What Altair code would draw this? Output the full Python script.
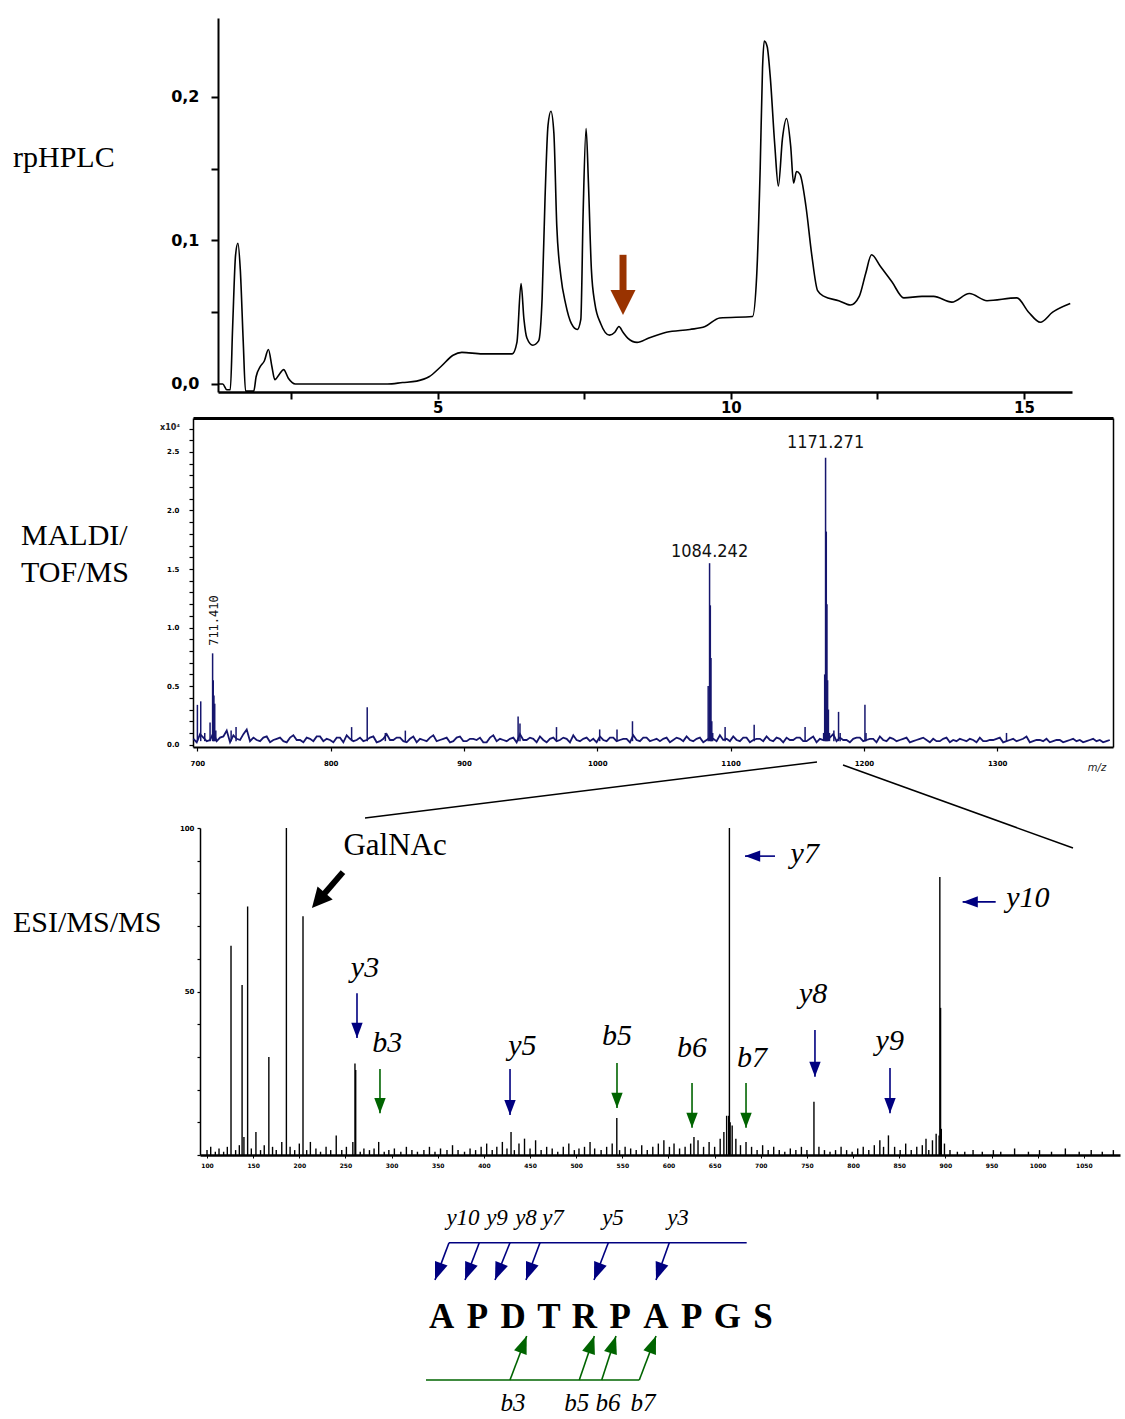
import math
import altair as alt
import pandas as pd

W, H = 1125, 1419
NAVY = "#000080"
GREEN = "#006400"
BROWN = "#993300"
SPEC_BLUE = "#16166e"
SERIF = "Liberation Serif"
SANS_BOLD = "DejaVu Sans"
NARROW = "Liberation Sans Narrow, DejaVu Sans Condensed, sans-serif"

# ---------------------------------------------------------------- data
# rpHPLC chromatogram: (retention time [min], absorbance)
HPLC_TRACE = [
    (1.25, 0.000), (1.33, 0.000), (1.40, -0.004), (1.46, -0.004), (1.50, 0.040),
    (1.55, 0.090), (1.59, 0.098), (1.63, 0.080), (1.68, 0.030), (1.72, -0.005),
    (1.86, -0.005), (1.90, 0.005), (1.97, 0.012), (2.04, 0.016), (2.11, 0.024),
    (2.17, 0.012), (2.22, 0.003), (2.30, 0.007), (2.37, 0.010), (2.45, 0.004),
    (2.57, 0.000), (4.14, 0.000), (4.40, 0.001), (4.64, 0.002), (4.85, 0.005),
    (5.05, 0.012), (5.26, 0.020), (5.41, 0.022), (5.76, 0.021), (6.27, 0.021),
    (6.35, 0.029), (6.42, 0.070), (6.47, 0.045), (6.52, 0.032), (6.62, 0.027),
    (6.72, 0.030), (6.78, 0.060), (6.83, 0.130), (6.88, 0.180), (6.93, 0.190),
    (6.98, 0.175), (7.03, 0.110), (7.10, 0.075), (7.18, 0.056), (7.28, 0.042),
    (7.38, 0.038), (7.44, 0.045), (7.48, 0.120), (7.53, 0.178), (7.57, 0.140),
    (7.62, 0.080), (7.68, 0.056), (7.78, 0.042), (7.93, 0.034), (8.02, 0.036),
    (8.09, 0.040), (8.16, 0.036), (8.24, 0.032), (8.40, 0.029), (8.60, 0.032),
    (8.90, 0.036), (9.30, 0.038), (9.56, 0.040), (9.81, 0.046), (10.37, 0.047),
    (10.44, 0.075), (10.50, 0.150), (10.54, 0.220), (10.57, 0.239), (10.62, 0.235),
    (10.67, 0.215), (10.75, 0.166), (10.81, 0.138), (10.88, 0.171), (10.95, 0.185),
    (11.02, 0.166), (11.07, 0.140), (11.12, 0.148), (11.18, 0.146), (11.28, 0.124),
    (11.38, 0.090), (11.48, 0.065), (11.59, 0.061), (11.84, 0.058), (12.04, 0.055),
    (12.19, 0.061), (12.30, 0.077), (12.40, 0.090), (12.55, 0.082), (12.75, 0.071),
    (12.95, 0.060), (13.26, 0.061), (13.46, 0.061), (13.77, 0.057), (14.07, 0.063),
    (14.37, 0.058), (14.88, 0.060), (15.08, 0.050), (15.28, 0.043), (15.49, 0.050),
    (15.79, 0.056),
]
# collected fraction marker: (time, shaft top, shaft end, tip)
HPLC_MARK = (8.16, 0.090, 0.060, 0.048)

# MALDI-TOF spectrum (intensity x10^4): baseline sampled on two interleaved
# grids, plus the peak sticks
MALDI_NOISE_START = 697.0
MALDI_NOISE_STEP = 5.0
MALDI_NOISE = [
    0.05, 0.09, 0.03, 0.10, 0.06, 0.12, 0.08, 0.04, 0.13, 0.06,
    0.03, 0.07, 0.04, 0.06, 0.02, 0.08, 0.04, 0.06, 0.03, 0.07,
    0.05, 0.02, 0.06, 0.08, 0.03, 0.06, 0.04, 0.07, 0.03, 0.09,
    0.04, 0.06, 0.02, 0.07, 0.05, 0.03, 0.08, 0.04, 0.06, 0.03,
    0.07, 0.03, 0.05, 0.06, 0.02, 0.08, 0.05, 0.03, 0.06, 0.09,
    0.04, 0.05, 0.07, 0.02, 0.06, 0.04, 0.05, 0.08, 0.03, 0.06,
    0.05, 0.07, 0.03, 0.06, 0.04, 0.05, 0.08, 0.03, 0.06, 0.04,
    0.03, 0.06, 0.04, 0.05, 0.07, 0.03, 0.06, 0.04, 0.05, 0.08,
    0.05, 0.07, 0.03, 0.06, 0.04, 0.05, 0.07, 0.03, 0.05, 0.06,
    0.04, 0.06, 0.03, 0.07, 0.05, 0.04, 0.09, 0.06, 0.04, 0.05,
    0.06, 0.04, 0.05, 0.07, 0.03, 0.05, 0.04, 0.06, 0.03, 0.05,
    0.04, 0.05, 0.03, 0.06, 0.04, 0.05, 0.03, 0.04, 0.06, 0.03,
    0.04, 0.06, 0.03, 0.05, 0.04, 0.07, 0.03, 0.04, 0.05, 0.03,
    0.04, 0.03, 0.05, 0.04, 0.03, 0.05, 0.04, 0.03,
]
MALDI_NOISE_B_START = 699.5
MALDI_NOISE_B = [
    0.02, 0.06, 0.04, 0.03, 0.07, 0.02, 0.05, 0.09, 0.03, 0.04,
    0.06, 0.02, 0.05, 0.03, 0.06, 0.04, 0.02, 0.05, 0.07, 0.03,
    0.04, 0.06, 0.02, 0.05, 0.04, 0.03, 0.06, 0.02, 0.05, 0.04,
    0.06, 0.03, 0.05, 0.02, 0.04, 0.06, 0.03, 0.05, 0.02, 0.06,
    0.03, 0.05, 0.04, 0.02, 0.06, 0.03, 0.04, 0.05, 0.02, 0.04,
    0.06, 0.02, 0.04, 0.05, 0.03, 0.06, 0.02, 0.04, 0.05, 0.03,
    0.02, 0.04, 0.06, 0.03, 0.05, 0.02, 0.04, 0.06, 0.03, 0.05,
    0.05, 0.02, 0.06, 0.03, 0.04, 0.05, 0.02, 0.06, 0.03, 0.04,
    0.03, 0.04, 0.06, 0.02, 0.05, 0.03, 0.04, 0.06, 0.02, 0.04,
    0.06, 0.03, 0.05, 0.02, 0.04, 0.06, 0.03, 0.04, 0.02, 0.06,
    0.03, 0.05, 0.02, 0.04, 0.06, 0.03, 0.05, 0.02, 0.04, 0.06,
    0.02, 0.03, 0.05, 0.02, 0.03, 0.04, 0.05, 0.02, 0.03, 0.04,
    0.05, 0.02, 0.04, 0.03, 0.05, 0.02, 0.04, 0.03, 0.02, 0.04,
    0.02, 0.04, 0.03, 0.02, 0.04, 0.03, 0.02, 0.04,
]
MALDI_PEAKS = [
    (700.0, 0.34), (702.5, 0.37), (705.5, 0.10), (709.5, 0.19), (711.41, 0.78),
    (711.9, 0.55), (712.4, 0.42), (713.0, 0.35), (713.8, 0.12), (725.3, 0.12),
    (729.0, 0.15), (815.7, 0.15), (827.4, 0.32), (841.0, 0.10), (856.0, 0.12),
    (940.6, 0.24), (942.0, 0.18), (969.4, 0.15), (1001.8, 0.13), (1014.8, 0.13),
    (1026.4, 0.20), (1083.2, 0.50), (1084.242, 1.55), (1084.8, 1.19), (1085.3, 0.74),
    (1085.9, 0.20), (1086.6, 0.10), (1095.9, 0.15), (1117.7, 0.17), (1155.9, 0.15),
    (1169.8, 0.10), (1170.6, 0.60), (1171.271, 2.45), (1171.8, 1.82), (1172.3, 1.20),
    (1172.8, 0.55), (1173.4, 0.30), (1174.2, 0.10), (1177.5, 0.12), (1181.0, 0.28),
    (1182.2, 0.10), (1200.8, 0.34), (1201.6, 0.10), (1307.0, 0.10),
]
MALDI_BASE = 0.03
MALDI_LABELS = ["1084.242", "1171.271"]
MALDI_LABEL_MZ = [1084.242, 1171.271]
MALDI_LABEL_INT = [1.645, 2.58]
MALDI_SIDE_LABEL = "711.410"
MALDI_SIDE_POS = (712.4, 1.06)

# ESI-MS/MS product-ion spectrum: (m/z, relative intensity %)
ESI_PEAKS = [
    (126, 64), (138, 52), (144, 76), (167, 30), (186, 100), (204, 73),
    (260.3, 28), (261.1, 26), (429.4, 7), (544.0, 11.3), (627.6, 5.5),
    (665.2, 12), (666.0, 100), (666.8, 10), (684.0, 4), (757.6, 16.3),
    (838.3, 6), (879.0, 5), (893.2, 6), (894.0, 85), (894.8, 45), (895.6, 8),
]
ESI_MINOR = [
    (100, 1.5), (104, 2.5), (109, 1), (113, 2), (118, 1), (122, 2.5), (131, 1.5),
    (135, 3), (140, 5.5), (148, 2), (153, 7), (158, 1.5), (162, 3), (171, 2.5),
    (175, 1.5), (181, 4), (190, 2.5), (195, 1.5), (200, 3.5), (208, 1.5), (212, 4),
    (218, 2), (223, 1), (229, 2.5), (234, 1.5), (240, 6), (246, 1.5), (251, 2.5),
    (258, 4), (266, 1), (270, 2), (276, 1.5), (281, 2), (286, 4), (292, 1),
    (297, 1.5), (303, 2), (310, 1), (316, 2.5), (322, 1.5), (328, 1), (335, 1.5),
    (341, 2.5), (347, 1), (353, 2), (360, 1.5), (366, 3), (372, 1.5), (379, 1),
    (385, 2), (391, 1.5), (397, 2.5), (403, 3.5), (409, 1.5), (414, 2.5), (420, 4),
    (425, 2), (433, 1.5), (438, 3.5), (444, 5), (450, 2), (456, 4.5), (462, 1.5),
    (468, 2.5), (474, 2), (480, 1), (486, 2.5), (492, 3.5), (498, 1.5), (503, 2),
    (509, 2.5), (515, 4), (520, 2), (527, 1.5), (533, 2.5), (539, 3.5), (547, 1.5),
    (553, 2.5), (559, 2), (565, 1.5), (571, 3), (577, 1.5), (583, 2.5), (589, 3.5),
    (595, 4.5), (601, 2.5), (606, 3.5), (612, 2), (618, 2.5), (624, 3.5), (632, 4.5),
    (638, 2.5), (644, 4), (650, 2.5), (656, 5), (660, 7), (663, 12), (669, 9),
    (673, 5), (678, 3), (690, 2.5), (696, 1.5), (702, 3), (708, 1.5), (714, 2.5),
    (720, 1.5), (726, 1), (732, 2), (738, 1.5), (744, 2.5), (750, 1.5), (763, 2.5),
    (769, 1.5), (775, 1), (781, 1.5), (787, 2.5), (793, 1.5), (799, 1), (805, 2),
    (811, 2.5), (817, 1.5), (823, 3), (829, 4.5), (833, 2.5), (845, 2.5), (851, 1.5),
    (857, 3.5), (863, 1.5), (869, 2.5), (875, 3), (882, 1.5), (886, 4.5), (890, 6.5),
    (899, 3.5), (905, 1.5), (913, 1), (921, 1), (930, 1.5), (940, 1), (952, 1.5),
    (960, 1), (975, 2), (990, 1), (1002, 1.5), (1015, 1), (1030, 2), (1045, 1),
    (1058, 1.5), (1070, 1), (1082, 1.5),
]

# fragment-ion call-outs on the ESI spectrum
ESI_ION_NAMES = ["y3", "b3", "y5", "b5", "b6", "b7", "y8", "y9"]
ESI_ION_MZ = [262.5, 287.4, 428.3, 544.2, 625.5, 684.0, 758.7, 840.0]
ESI_ARROW_TOP = [49.5, 26.3, 26.3, 28.1, 22.0, 22.0, 38.2, 26.6]
ESI_ARROW_TIP = [35.8, 12.8, 12.2, 14.4, 8.3, 8.3, 23.9, 12.8]
ESI_LABEL_MZ = [271.2, 295.3, 441.6, 544.3, 625.4, 690.4, 756.7, 839.7]
ESI_LABEL_INT = [54.4, 31.6, 30.6, 33.6, 30.0, 27.0, 46.5, 32.1]
ESI_SIDE_NAMES = ["y7", "y10"]
ESI_SIDE_INT = [91.4, 77.4]
ESI_SIDE_FROM = [715.4, 954.5]
ESI_SIDE_TIP = [682.9, 918.7]
ESI_SIDE_LABEL_MZ = [747.6, 989.4]
ESI_SIDE_LABEL_INT = [89.3, 75.9]
GALNAC_TEXT = "GalNAc"
GALNAC_TEXT_POS = (303.7, 91.7)
GALNAC_ARROW = (247.3, 86.5, 222.2, 78.3, 213.7, 75.5)  # start, shaft end, tip

# glycopeptide sequence with y / b cleavage arrows (positions in residue units)
SEQUENCE = list("APDTRPAPGS")
SEQ_Y_IONS = ["y10", "y9", "y8", "y7", "y5", "y3"]
SEQ_Y_START = [0.204, 1.053, 1.913, 2.754, 4.667, 6.375]
SEQ_Y_TIP = [-0.188, 0.653, 1.493, 2.361, 4.266, 6.003]
SEQ_Y_LABEL = [0.597, 1.549, 2.361, 3.118, 4.798, 6.619]
SEQ_Y_BAR = (0.204, 8.543)
SEQ_B_IONS = ["b3", "b5", "b6", "b7"]
SEQ_B_START = [1.913, 3.854, 4.482, 5.535]
SEQ_B_TIP = [2.381, 4.275, 4.882, 6.003]
SEQ_B_LABEL = [2.0, 3.78, 4.66, 5.64]
SEQ_B_BAR = (-0.44, 5.535)

PANEL_TITLES = ["rpHPLC", "MALDI/", "TOF/MS", "ESI/MS/MS"]

# ---------------------------------------------------------------- layout
TITLE_POS = [(13, 167), (21, 545), (21, 582), (13, 932)]
ZOOM_LINES = [(817, 762, 365, 818), (843, 765, 1073, 848)]
SEQ_ROWS = dict(y_label=1225, y_bar=1242.7, y_tip=1280, letters=1328,
                b_tip=1336, b_bar=1380, b_label=1411)


def lin(domain, rng):
    return alt.Scale(domain=domain, range=rng, nice=False, zero=False)


PAGE_X = lin([0, W], [0, W])
PAGE_Y = lin([0, H], [0, H])
HPLC_X = lin([1.25, 15.82], [218, 1072])
HPLC_Y = lin([-0.0056, 0.255], [392, 18])
MALDI_X = lin([696.7, 1386.9], [193, 1113])
MALDI_Y = lin([-0.02, 2.79], [747, 418])
ESI_X = lin([92.4, 1089.2], [200, 1120])
ESI_Y = lin([0, 100], [1155, 828])
SEQ_LEFT, SEQ_RIGHT = 441.7, 763.0
SEQ_X = lin([0, len(SEQUENCE) - 1], [SEQ_LEFT, SEQ_RIGHT])
SEQ_PX = (SEQ_RIGHT - SEQ_LEFT) / (len(SEQUENCE) - 1)

THIN_HEAD = "M0,0L-0.6,1.6L0.6,1.6Z"
FAT_HEAD = "M0,0L-0.7,1.4L0.7,1.4Z"

ION_COLOR = alt.Color("kind:N", scale=alt.Scale(domain=["y", "b"], range=[NAVY, GREEN]),
                      legend=None)


def axis(orient, offset, **kw):
    opts = dict(orient=orient, offset=offset, grid=False, title=None,
                domainColor="black", tickColor="black", labelColor="black",
                labelFlush=False, labelOverlap=False)
    opts.update(kw)
    return alt.Axis(**opts)


def X(field, scale, ax=None):
    return alt.X(field, type="quantitative", scale=scale, axis=ax)


def Y(field, scale, ax=None):
    return alt.Y(field, type="quantitative", scale=scale, axis=ax)


def arrow(df, xs, ys, width, head, head_size, color=None):
    rule_kw = dict(strokeWidth=width)
    pt_kw = dict(shape=head, filled=True, opacity=1, size=head_size, strokeWidth=0)
    if color is not None:
        rule_kw["color"] = color
        pt_kw["color"] = color
    shaft = alt.Chart(df).mark_rule(**rule_kw).encode(
        x=X("x0", xs), x2="xe:Q", y=Y("y0", ys), y2="ye:Q")
    tip = alt.Chart(df).mark_point(**pt_kw).encode(
        x=X("x1", xs), y=Y("y1", ys), angle=alt.Angle("ang:Q", scale=None))
    if color is None:
        shaft = shaft.encode(color=ION_COLOR)
        tip = tip.encode(color=ION_COLOR)
    return [shaft, tip]


layers = []

# ---------------------------------------------------------------- rpHPLC
hplc_df = pd.DataFrame(HPLC_TRACE, columns=["t", "a"])
layers.append(
    alt.Chart(hplc_df).mark_line(color="black", strokeWidth=1.6,
                                 interpolate="monotone").encode(
        x=X("t", HPLC_X, axis(
            "bottom", 392 - H, values=[2.5, 5, 7.5, 10, 12.5, 15],
            labelExpr="datum.value % 5 == 0 ? datum.label : ''",
            tickSize=7, tickWidth=2, domainWidth=2.5, labelFont=SANS_BOLD,
            labelFontWeight="bold", labelFontSize=15, labelPadding=1)),
        y=Y("a", HPLC_Y, axis(
            "left", -218, values=[0, 0.05, 0.1, 0.15, 0.2],
            labelExpr="(datum.value == 0 || datum.value == 0.1 || datum.value == 0.2)"
                      " ? replace(format(datum.value, '.1f'), '.', ',') : ''",
            tickSize=7, tickWidth=2, domainWidth=2, labelFont=SANS_BOLD,
            labelFontWeight="bold", labelFontSize=16, labelPadding=12)),
    )
)
t, top, end, tipv = HPLC_MARK
layers += arrow(pd.DataFrame([dict(x0=t, xe=t, y0=top, ye=end, x1=t, y1=tipv, ang=180)]),
                HPLC_X, HPLC_Y, 7, FAT_HEAD, 1276, color=BROWN)

# ---------------------------------------------------------------- MALDI-TOF
noise_df = pd.DataFrame({
    "mz": [MALDI_NOISE_START + i * MALDI_NOISE_STEP for i in range(len(MALDI_NOISE))]
          + [MALDI_NOISE_B_START + i * MALDI_NOISE_STEP for i in range(len(MALDI_NOISE_B))],
    "inten": MALDI_NOISE + MALDI_NOISE_B,
})
noise_df = noise_df[noise_df.mz < 1386.5].sort_values("mz")
layers.append(
    alt.Chart(noise_df).mark_line(color=SPEC_BLUE, strokeWidth=1.8).encode(
        x=X("mz", MALDI_X, axis(
            "bottom", 747 - H, values=list(range(700, 1301, 100)), format="d",
            tickSize=4, tickWidth=1.2, domainWidth=2, labelFont=SANS_BOLD,
            labelFontWeight="bold", labelFontSize=7, labelPadding=8)),
        y=Y("inten", MALDI_Y, axis(
            "left", -193, values=[round(i * 0.1, 1) for i in range(28)],
            labelExpr="round(datum.value * 10) % 5 == 0 ? format(datum.value, '.1f') : ''",
            tickSize=4, tickWidth=1.2, domainWidth=1.5, labelFont=SANS_BOLD,
            labelFontWeight="bold", labelFontSize=7, labelPadding=10)),
    )
)
peaks_df = pd.DataFrame(MALDI_PEAKS, columns=["mz", "inten"])
peaks_df["base"] = MALDI_BASE
layers.append(
    alt.Chart(peaks_df).mark_rule(color=SPEC_BLUE, strokeWidth=1.5).encode(
        x=X("mz", MALDI_X), y=Y("inten", MALDI_Y), y2="base:Q")
)
mlab_df = pd.DataFrame({"mz": MALDI_LABEL_MZ, "inten": MALDI_LABEL_INT, "txt": MALDI_LABELS})
layers.append(
    alt.Chart(mlab_df).mark_text(font=NARROW, fontSize=18, color="#111",
                                 align="center", baseline="middle").encode(
        x=X("mz", MALDI_X, axis("top", -418, ticks=False, labels=False, domainWidth=3)),
        y=Y("inten", MALDI_Y, axis("right", 1113 - W, ticks=False, labels=False,
                                   domainWidth=1.5)),
        text="txt:N")
)
side_df = pd.DataFrame([dict(mz=MALDI_SIDE_POS[0], inten=MALDI_SIDE_POS[1],
                             txt=MALDI_SIDE_LABEL)])
layers.append(
    alt.Chart(side_df).mark_text(font="DejaVu Sans Mono", fontSize=12, angle=270,
                                 color="#111", align="center", baseline="middle").encode(
        x=X("mz", MALDI_X), y=Y("inten", MALDI_Y), text="txt:N")
)

# ---------------------------------------------------------------- ESI-MS/MS
esi_df = pd.DataFrame(ESI_MINOR + ESI_PEAKS, columns=["mz", "inten"])
esi_df["base"] = 0
layers.append(
    alt.Chart(esi_df).mark_rule(color="black", strokeWidth=1.4).encode(
        x=X("mz", ESI_X, axis(
            "bottom", 1155 - H, values=list(range(100, 1051, 50)), format="d",
            tickSize=3, tickWidth=1, domainWidth=2.5, labelFont=SANS_BOLD,
            labelFontWeight="bold", labelFontSize=6, labelPadding=4)),
        y=Y("inten", ESI_Y, axis(
            "left", -200, values=list(range(0, 101, 10)),
            labelExpr="(datum.value == 50 || datum.value == 100) ? datum.label : ''",
            tickSize=3, tickWidth=1.2, domainWidth=1.5, labelFont=SANS_BOLD,
            labelFontWeight="bold", labelFontSize=7, labelPadding=3)),
        y2="base:Q")
)

ion_arrows = pd.DataFrame({
    "kind": [n[0] for n in ESI_ION_NAMES],
    "x0": ESI_ION_MZ, "xe": ESI_ION_MZ, "x1": ESI_ION_MZ,
    "y0": ESI_ARROW_TOP, "ye": ESI_ARROW_TIP, "y1": ESI_ARROW_TIP, "ang": 180,
})
side_arrows = pd.DataFrame({
    "kind": [n[0] for n in ESI_SIDE_NAMES],
    "x0": ESI_SIDE_FROM, "xe": ESI_SIDE_TIP, "x1": ESI_SIDE_TIP,
    "y0": ESI_SIDE_INT, "ye": ESI_SIDE_INT, "y1": ESI_SIDE_INT, "ang": 270,
})
layers += arrow(pd.concat([ion_arrows, side_arrows]), ESI_X, ESI_Y, 1.6, THIN_HEAD, 360)

ion_labels = pd.DataFrame({
    "txt": ESI_ION_NAMES + ESI_SIDE_NAMES,
    "mz": ESI_LABEL_MZ + ESI_SIDE_LABEL_MZ,
    "inten": ESI_LABEL_INT + ESI_SIDE_LABEL_INT,
})
layers.append(
    alt.Chart(ion_labels).mark_text(font=SERIF, fontStyle="italic", fontSize=30,
                                    color="black", align="center",
                                    baseline="alphabetic").encode(
        x=X("mz", ESI_X), y=Y("inten", ESI_Y), text="txt:N")
)
gx0, gy0, gxe, gye, gx1, gy1 = GALNAC_ARROW
layers += arrow(pd.DataFrame([dict(x0=gx0, y0=gy0, xe=gxe, ye=gye, x1=gx1, y1=gy1, ang=221)]),
                ESI_X, ESI_Y, 6, FAT_HEAD, 820, color="black")
layers.append(
    alt.Chart(pd.DataFrame([dict(mz=GALNAC_TEXT_POS[0], inten=GALNAC_TEXT_POS[1],
                                 txt=GALNAC_TEXT)]))
    .mark_text(font=SERIF, fontSize=31, color="black", align="center",
               baseline="alphabetic")
    .encode(x=X("mz", ESI_X), y=Y("inten", ESI_Y), text="txt:N")
)

# ---------------------------------------------------------------- sequence map
def seq_angle(u0, u1, y0, y1):
    dx = (u1 - u0) * SEQ_PX
    dy = y1 - y0
    return math.degrees(math.atan2(dx, -dy)) % 360


R = SEQ_ROWS
bars = pd.DataFrame({
    "kind": ["y", "b"],
    "x0": [SEQ_Y_BAR[0], SEQ_B_BAR[0]], "xe": [SEQ_Y_BAR[1], SEQ_B_BAR[1]],
    "y0": [R["y_bar"], R["b_bar"]], "ye": [R["y_bar"], R["b_bar"]],
})
layers.append(
    alt.Chart(bars).mark_rule(strokeWidth=1.6).encode(
        x=X("x0", SEQ_X), x2="xe:Q", y=Y("y0", PAGE_Y), y2="ye:Q", color=ION_COLOR)
)
seq_arrows = pd.DataFrame({
    "kind": ["y"] * len(SEQ_Y_IONS) + ["b"] * len(SEQ_B_IONS),
    "x0": SEQ_Y_START + SEQ_B_START,
    "xe": SEQ_Y_TIP + SEQ_B_TIP,
    "x1": SEQ_Y_TIP + SEQ_B_TIP,
    "y0": [R["y_bar"]] * len(SEQ_Y_IONS) + [R["b_bar"]] * len(SEQ_B_IONS),
    "ye": [R["y_tip"]] * len(SEQ_Y_IONS) + [R["b_tip"]] * len(SEQ_B_IONS),
})
seq_arrows["y1"] = seq_arrows["ye"]
seq_arrows["ang"] = [seq_angle(a, b, c, d) for a, b, c, d in
                     zip(seq_arrows.x0, seq_arrows.x1, seq_arrows.y0, seq_arrows.y1)]
layers += arrow(seq_arrows, SEQ_X, PAGE_Y, 1.6, THIN_HEAD, 500)

letters = pd.DataFrame({"pos": list(range(len(SEQUENCE))), "aa": SEQUENCE,
                        "row": R["letters"]})
layers.append(
    alt.Chart(letters).mark_text(font=SERIF, fontWeight="bold", fontSize=35,
                                 color="black", align="center",
                                 baseline="alphabetic").encode(
        x=X("pos", SEQ_X), y=Y("row", PAGE_Y), text="aa:N")
)
seq_y_lab = pd.DataFrame({"pos": SEQ_Y_LABEL, "txt": SEQ_Y_IONS, "row": R["y_label"]})
layers.append(
    alt.Chart(seq_y_lab).mark_text(font=SERIF, fontStyle="italic", fontSize=23,
                                   color="black", align="center",
                                   baseline="alphabetic").encode(
        x=X("pos", SEQ_X), y=Y("row", PAGE_Y), text="txt:N")
)
seq_b_lab = pd.DataFrame({"pos": SEQ_B_LABEL, "txt": SEQ_B_IONS, "row": R["b_label"]})
layers.append(
    alt.Chart(seq_b_lab).mark_text(font=SERIF, fontStyle="italic", fontSize=25,
                                   color="black", align="center",
                                   baseline="alphabetic").encode(
        x=X("pos", SEQ_X), y=Y("row", PAGE_Y), text="txt:N")
)

# ---------------------------------------------------------------- page annotations
titles = pd.DataFrame({"txt": PANEL_TITLES, "x": [p[0] for p in TITLE_POS],
                       "y": [p[1] for p in TITLE_POS]})
layers.append(
    alt.Chart(titles).mark_text(font=SERIF, fontSize=30, color="black", align="left",
                                baseline="alphabetic").encode(
        x=X("x", PAGE_X), y=Y("y", PAGE_Y), text="txt:N")
)
zoom_df = pd.DataFrame(ZOOM_LINES, columns=["x0", "y0", "xe", "ye"])
layers.append(
    alt.Chart(zoom_df).mark_rule(color="black", strokeWidth=1.5).encode(
        x=X("x0", PAGE_X), x2="xe:Q", y=Y("y0", PAGE_Y), y2="ye:Q")
)
small = pd.DataFrame({"txt": ["x10\u2074", "m/z"], "x": [170, 1097], "y": [428, 768]})
layers.append(
    alt.Chart(small.iloc[[0]]).mark_text(font=SANS_BOLD, fontWeight="bold", fontSize=8,
                                         color="#222", align="center",
                                         baseline="middle").encode(
        x=X("x", PAGE_X), y=Y("y", PAGE_Y), text="txt:N")
)
layers.append(
    alt.Chart(small.iloc[[1]]).mark_text(font=SANS_BOLD, fontStyle="italic", fontSize=10,
                                         color="#222", align="center",
                                         baseline="middle").encode(
        x=X("x", PAGE_X), y=Y("y", PAGE_Y), text="txt:N")
)

chart = (
    alt.layer(*layers)
    .resolve_scale(x="independent", y="independent")
    .properties(width=W, height=H, padding=0, autosize=alt.AutoSizeParams(type="none"))
    .configure(background="white")
    .configure_view(stroke=None)
)
chart.save("out.html", embed_options={"renderer": "svg", "actions": False})
